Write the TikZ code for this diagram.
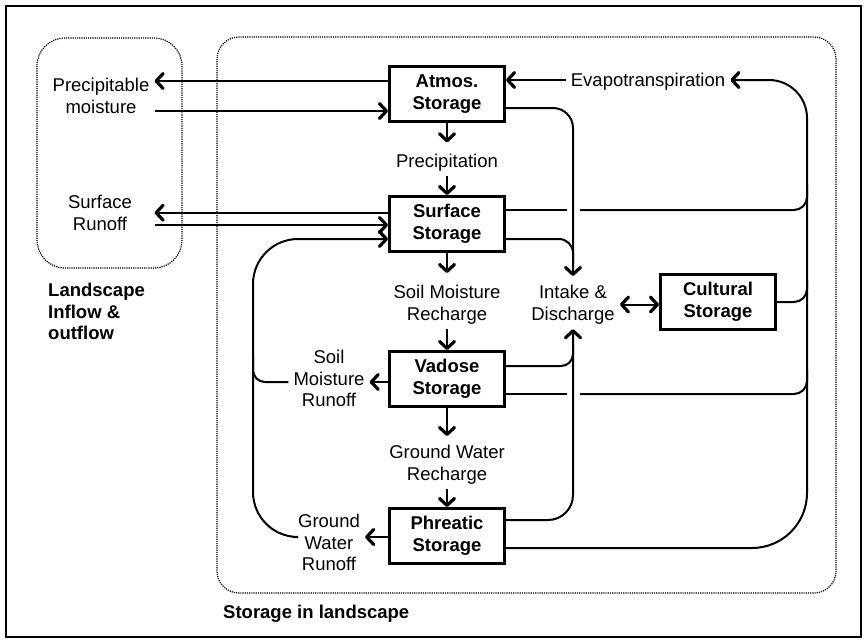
\documentclass[tikz,border=0pt]{standalone}
\usepackage{fontspec}
\setmainfont{Liberation Sans}
\usetikzlibrary{arrows.meta}

\begin{document}
\begin{tikzpicture}[x=1pt,y=-1pt,
    store/.style={draw,line width=3pt,minimum width=115pt,minimum height=55pt,
      align=center,inner sep=0pt,font=\bfseries\fontsize{18.5}{21.5}\selectfont},
    flow/.style={align=center,inner sep=5pt,font=\fontsize{18.5}{21.5}\selectfont},
    title/.style={align=left,inner sep=0pt,font=\bfseries\fontsize{18.5}{21.5}\selectfont},
    region/.style={draw,line width=1.2pt,densely dotted},
    link/.style={line width=2pt},
    >={Straight Barb[length=7pt,width=15pt,line width=3.2pt,round]}]
    \useasboundingbox (0,0) rectangle (865,640);

    % Frame
    \draw[line width=2.5pt] (6,6) rectangle (861,637);

    % Regions
    \draw[region,rounded corners=28pt] (37,38) rectangle (182,268);
    \draw[region,rounded corners=22pt] (217,37) rectangle (836,593);
    \node[title,anchor=north west] (landlbl) at (48,283) {Landscape\\Inflow \&\\outflow};
    \node[title,anchor=base west] (storlbl) at (223,618) {Storage in landscape};

    % Storages
    \node[store] (atm)  at (447,94)  {Atmos.\\Storage};
    \node[store] (surf) at (447,224) {Surface\\Storage};
    \node[store] (vad)  at (447,379) {Vadose\\Storage};
    \node[store] (phr)  at (447,536) {Phreatic\\Storage};
    \node[store] (cult) at (718,302) {Cultural\\Storage};

    % Flows
    \node[flow,anchor=base]  (precip) at (447,167) {Precipitation};
    \node[flow,anchor=north] (smrech) at (447,280) {Soil Moisture\\Recharge};
    \node[flow,anchor=north] (gwrech) at (447,440) {Ground Water\\Recharge};
    \node[flow,anchor=north] (intake) at (573,280) {Intake \&\\Discharge};
    \node[flow,anchor=base]  (evap)   at (648,86)  {Evapotranspiration};
    \node[flow,anchor=north] (pmoist) at (101,73)  {Precipitable\\moisture};
    \node[flow,anchor=north] (srun)   at (100,190) {Surface\\Runoff};
    \node[flow,anchor=north] (smrun)  at (329,345) {Soil\\Moisture\\Runoff};
    \node[flow,anchor=north] (gwrun)  at (329,509) {Ground\\Water\\Runoff};

    % Landscape exchange
    \draw[link,->] (atm.west |- 0,81) -- (pmoist.east |- 0,81);
    \draw[link,->] (pmoist.east |- 0,111) -- (atm.west |- 0,111);
    \draw[link,->] (surf.west |- srun.east) -- (srun.east -| pmoist.east);
    \draw[link,->] (pmoist.east |- 0,225) -- (surf.west |- 0,225);
    \draw[link,->] (evap.west |- 0,80) -- (atm.east |- 0,80);

    % Vertical chain
    \draw[link,->] (atm.south) -- ([yshift=6pt]precip.north);
    \draw[link,->] (precip.south) -- (surf.north);
    \draw[link,->] (surf.south) -- ([yshift=7pt]smrech.north);
    \draw[link,->] (smrech.south) -- (vad.north);
    \draw[link,->] (vad.south) -- ([yshift=4pt]gwrech.north);
    \draw[link,->] (gwrech.south) -- (phr.north);

    % Runoff back to surface
    \draw[link,->] (vad.west |- 0,382) -- (smrun.east |- 0,382);
    \draw[link,->] (phr.west |- 0,537) -- (gwrun.east |- 0,537);
    \draw[link,->,rounded corners=45pt] (gwrun.west |- 0,537) -| (253,400) |- (surf.west |- 0,239);
    \draw[link,rounded corners=12pt] (smrun.west |- 0,382) -| (253,355);

    % Intake and discharge
    \draw[link,->,rounded corners=20pt] (atm.east |- 0,108) -| ([yshift=4pt]intake.north);
    \draw[link,rounded corners=14pt] (surf.east |- 0,239) -| (intake.north |- 0,262);
    \draw[link,->,rounded corners=25pt] (phr.east |- 0,520) -| (intake.south);
    \draw[link,rounded corners=12pt] (vad.east |- 0,366) -| (intake.south |- 0,345);
    \draw[link,<->] (intake.east) -- (intake.east -| cult.west);

    % Evapotranspiration loop
    \draw[link,->,rounded corners=55pt] (phr.east |- 0,548) -| (807,300)
        [rounded corners=38pt] |- (evap.east |- 0,80);
    \draw[link] (surf.east |- 0,210) -- (567,210);
    \draw[link,rounded corners=13pt] (580,210) -| (807,185);
    \draw[link,rounded corners=13pt] (cult.east) -| (807,280);
    \draw[link] (vad.east |- 0,394) -- (567,394);
    \draw[link,rounded corners=13pt] (580,394) -| (807,370);
\end{tikzpicture}
\end{document}
